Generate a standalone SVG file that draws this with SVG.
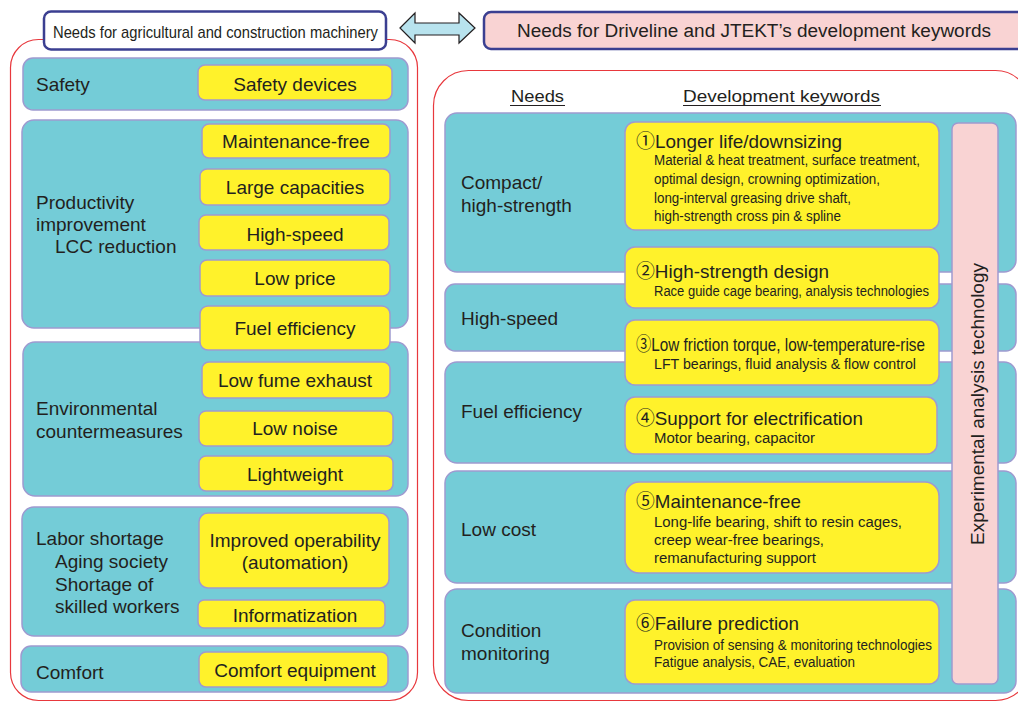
<svg xmlns="http://www.w3.org/2000/svg" width="1018" height="702" viewBox="0 0 1018 702">
<style>
text{font-family:"Liberation Sans",Arial,"Noto Sans CJK JP",sans-serif;fill:#231f20}
.panel{fill:none;stroke:#e8383d;stroke-width:1.2}
.teal{fill:#74ccd7;stroke:#9e9ad0;stroke-width:1.5}
.yel{fill:#fff22b;stroke:#9e9ad0;stroke-width:1.5}
.pink{fill:#f9d3d3;stroke:#9e9ad0;stroke-width:1.5}
.lbl{font-size:19px}
.yl{font-size:19px;text-anchor:middle}
.ttl{font-size:19px}
.det{font-size:14px}
.hdr{fill:#ffffff;stroke:#3b3f91;stroke-width:2.5}
</style>
<rect width="1018" height="702" fill="#ffffff"/>
<!-- outer panels -->
<rect class="panel" x="10.5" y="39.5" width="407" height="661" rx="28"/>
<rect class="panel" x="433.5" y="70.5" width="597" height="630" rx="35"/>

<!-- headers -->
<g id="hdr-left">
<rect class="hdr" x="44" y="11.5" width="342" height="38" rx="7"/>
<text x="53" y="38" font-size="17" textLength="325" lengthAdjust="spacingAndGlyphs">Needs for agricultural and construction machinery</text>
</g>
<g id="connectors">
<path d="M400,28 L415,13 L415,23 L459,23 L459,13 L475,28 L459,43 L459,35 L415,35 L415,43 Z" fill="#b8e3ee" stroke="#231f20" stroke-width="1.2" stroke-linejoin="miter"/>
</g>
<g id="hdr-right">
<rect class="hdr" x="484" y="12" width="560" height="37" rx="7" style="fill:#f9d3d3"/>
<text x="517" y="37" font-size="18" textLength="474" lengthAdjust="spacingAndGlyphs">Needs for Driveline and JTEKT’s development keywords</text>
</g>

<!-- LEFT PANEL -->
<g id="safety">
<rect class="teal" x="23" y="58" width="385" height="52" rx="10"/>
<text class="lbl" x="36" y="91">Safety</text>
<rect class="yel" x="198" y="65" width="194" height="35" rx="7"/>
<text class="yl" x="295" y="91">Safety devices</text>
</g>
<g id="productivity">
<rect class="teal" x="22" y="120" width="386" height="208" rx="12"/>
<text class="lbl" x="36" y="209">Productivity</text>
<text class="lbl" x="36" y="231">improvement</text>
<text class="lbl" x="55" y="253">LCC reduction</text>
<rect class="yel" x="202" y="124" width="188" height="34" rx="7"/>
<text class="yl" x="296" y="148">Maintenance-free</text>
<rect class="yel" x="200" y="169" width="190" height="36" rx="7"/>
<text class="yl" x="295" y="194">Large capacities</text>
<rect class="yel" x="199" y="215" width="190" height="35" rx="7"/>
<text class="yl" x="295" y="241">High-speed</text>
<rect class="yel" x="200" y="260" width="190" height="36" rx="7"/>
<text class="yl" x="295" y="285">Low price</text>
</g>
<g id="environment">
<rect class="teal" x="23" y="342" width="385" height="154" rx="12"/>
<text class="lbl" x="36" y="415">Environmental</text>
<text class="lbl" x="36" y="438">countermeasures</text>
<rect class="yel" x="202" y="362" width="188" height="36" rx="7"/>
<text class="yl" x="295" y="387">Low fume exhaust</text>
<rect class="yel" x="199" y="411" width="194" height="35" rx="7"/>
<text class="yl" x="295" y="435">Low noise</text>
<rect class="yel" x="199" y="456" width="194" height="35" rx="7"/>
<text class="yl" x="295" y="481">Lightweight</text>
</g>
<g id="fuel-left">
<rect class="yel" x="200" y="306" width="190" height="44" rx="8"/>
<text class="yl" x="295" y="335">Fuel efficiency</text>
</g>
<g id="labor">
<rect class="teal" x="22" y="507" width="386" height="129" rx="12"/>
<text class="lbl" x="36" y="545">Labor shortage</text>
<text class="lbl" x="55" y="568">Aging society</text>
<text class="lbl" x="55" y="591">Shortage of</text>
<text class="lbl" x="55" y="613">skilled workers</text>
<rect class="yel" x="199" y="513" width="190" height="75" rx="9"/>
<text class="yl" x="295" y="547">Improved operability</text>
<text class="yl" x="295" y="569">(automation)</text>
<rect class="yel" x="198" y="600" width="187" height="28" rx="6"/>
<text class="yl" x="295" y="622">Informatization</text>
</g>
<g id="comfort">
<rect class="teal" x="21" y="646" width="387" height="46" rx="10"/>
<text class="lbl" x="36" y="679">Comfort</text>
<rect class="yel" x="199" y="652" width="189" height="35" rx="7"/>
<text class="yl" x="295" y="677">Comfort equipment</text>
</g>

<!-- RIGHT PANEL -->
<g id="col-heads">
<text x="511" y="102" font-size="17" textLength="53" lengthAdjust="spacingAndGlyphs">Needs</text>
<line x1="510" y1="105.5" x2="565" y2="105.5" stroke="#231f20" stroke-width="1"/>
<text x="683" y="102" font-size="17" textLength="197" lengthAdjust="spacingAndGlyphs">Development keywords</text>
<line x1="683" y1="105.5" x2="881" y2="105.5" stroke="#231f20" stroke-width="1"/>
</g>
<g id="need-compact">
<rect class="teal" x="445" y="113" width="571" height="159" rx="12"/>
<text class="lbl" x="461" y="189">Compact/</text>
<text class="lbl" x="461" y="212">high-strength</text>
</g>
<g id="need-highspeed">
<rect class="teal" x="445" y="284" width="571" height="67" rx="10"/>
<text class="lbl" x="461" y="325">High-speed</text>
</g>
<g id="need-fuel">
<rect class="teal" x="445" y="362" width="571" height="101" rx="12"/>
<text class="lbl" x="461" y="418">Fuel efficiency</text>
</g>
<g id="need-lowcost">
<rect class="teal" x="445" y="471" width="571" height="112" rx="12"/>
<text class="lbl" x="461" y="536">Low cost</text>
</g>
<g id="need-condition">
<rect class="teal" x="445" y="589" width="571" height="104" rx="12"/>
<text class="lbl" x="461" y="637">Condition</text>
<text class="lbl" x="461" y="660">monitoring</text>
</g>

<g id="kw1">
<rect class="yel" x="625" y="122" width="314" height="108" rx="10"/>
<text class="ttl" x="636" y="148" textLength="206" lengthAdjust="spacingAndGlyphs">①Longer life/downsizing</text>
<text class="det" x="654" y="165" textLength="266" lengthAdjust="spacingAndGlyphs">Material &amp; heat treatment, surface treatment,</text>
<text class="det" x="654" y="184" textLength="226" lengthAdjust="spacingAndGlyphs">optimal design, crowning optimization,</text>
<text class="det" x="654" y="203" textLength="197" lengthAdjust="spacingAndGlyphs">long-interval greasing drive shaft,</text>
<text class="det" x="654" y="221" textLength="187" lengthAdjust="spacingAndGlyphs">high-strength cross pin &amp; spline</text>
</g>
<g id="kw2">
<rect class="yel" x="625" y="247" width="314" height="61" rx="10"/>
<text class="ttl" x="636" y="278" textLength="193" lengthAdjust="spacingAndGlyphs">②High-strength design</text>
<text class="det" x="654" y="296" textLength="275" lengthAdjust="spacingAndGlyphs">Race guide cage bearing, analysis technologies</text>
</g>
<g id="kw3">
<rect class="yel" x="625" y="320" width="314" height="65" rx="10"/>
<text class="ttl" x="636" y="351" textLength="289" lengthAdjust="spacingAndGlyphs">③Low friction torque, low-temperature-rise</text>
<text class="det" x="654" y="369" textLength="262" lengthAdjust="spacingAndGlyphs">LFT bearings, fluid analysis &amp; flow control</text>
</g>
<g id="kw4">
<rect class="yel" x="625" y="397" width="312" height="57" rx="10"/>
<text class="ttl" x="636" y="425" textLength="227" lengthAdjust="spacingAndGlyphs">④Support for electrification</text>
<text class="det" x="654" y="443" textLength="161" lengthAdjust="spacingAndGlyphs">Motor bearing, capacitor</text>
</g>
<g id="kw5">
<rect class="yel" x="625" y="482" width="314" height="91" rx="14"/>
<text class="ttl" x="636" y="508" textLength="165" lengthAdjust="spacingAndGlyphs">⑤Maintenance-free</text>
<text class="det" x="654" y="527" textLength="248" lengthAdjust="spacingAndGlyphs">Long-life bearing, shift to resin cages,</text>
<text class="det" x="654" y="545" textLength="170" lengthAdjust="spacingAndGlyphs">creep wear-free bearings,</text>
<text class="det" x="654" y="563" textLength="162" lengthAdjust="spacingAndGlyphs">remanufacturing support</text>
</g>
<g id="kw6">
<rect class="yel" x="625" y="600" width="314" height="84" rx="10"/>
<text class="ttl" x="636" y="630" textLength="163" lengthAdjust="spacingAndGlyphs">⑥Failure prediction</text>
<text class="det" x="654" y="650" textLength="278" lengthAdjust="spacingAndGlyphs">Provision of sensing &amp; monitoring technologies</text>
<text class="det" x="654" y="667" textLength="201" lengthAdjust="spacingAndGlyphs">Fatigue analysis, CAE, evaluation</text>
</g>
<g id="experimental">
<rect class="pink" x="952" y="123" width="46" height="561" rx="6"/>
<text transform="translate(984,404) rotate(-90)" x="0" y="0" font-size="19" text-anchor="middle" textLength="282" lengthAdjust="spacingAndGlyphs">Experimental analysis technology</text>
</g>
</svg>
